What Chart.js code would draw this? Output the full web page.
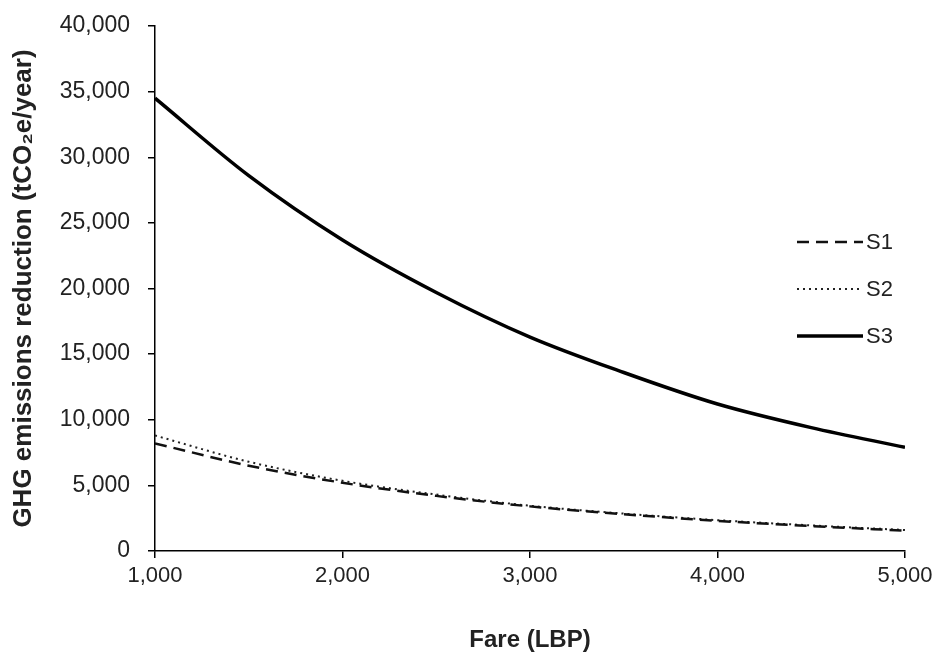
<!DOCTYPE html>
<html>
<head>
<meta charset="utf-8">
<script src="https://cdn.jsdelivr.net/npm/chart.js@4"></script>
<style>
  html, body { margin: 0; padding: 0; background: #fff; }
  #wrap { width: 936px; height: 659px; }
</style>
</head>
<body>
<div id="wrap"><canvas id="chart" width="936" height="659"></canvas></div>
<script>
const fares = [1000, 1500, 2000, 2500, 3000, 3500, 4000, 4500, 5000];
const s1 = [8200, 6500, 5200, 4200, 3400, 2800, 2300, 1900, 1550];
const s2 = [8800, 6800, 5350, 4300, 3450, 2850, 2350, 1950, 1600];
const s3 = [34500, 28600, 23700, 19700, 16300, 13600, 11200, 9400, 7900];
const seriesNames = ["S1", "S2", "S3"];

const toPoints = vals => vals.map((v, i) => ({ x: fares[i], y: v }));
const fmt = v => Number(v).toLocaleString("en-US");
const FONT = "'Liberation Sans', Arial, sans-serif";

// legend drawn inside the plot, on the right
const innerLegend = {
  id: "innerLegend",
  afterDraw(chart) {
    const { ctx, chartArea } = chart;
    const x0 = chartArea.right - 108;
    let y = chartArea.top + 216;
    chart.data.datasets.forEach(ds => {
      ctx.save();
      ctx.strokeStyle = ds.borderColor;
      ctx.lineWidth = ds.borderWidth;
      ctx.setLineDash(ds.borderDash || []);
      ctx.beginPath();
      ctx.moveTo(x0, y);
      ctx.lineTo(x0 + 66, y);
      ctx.stroke();
      ctx.setLineDash([]);
      ctx.fillStyle = "#222";
      ctx.font = "22px " + FONT;
      ctx.textBaseline = "middle";
      ctx.fillText(ds.label, x0 + 69, y + 1);
      ctx.restore();
      y += 47;
    });
  }
};

new Chart(document.getElementById("chart"), {
  type: "line",
  data: {
    datasets: [
      { label: seriesNames[0], data: toPoints(s1), borderColor: "#111", borderWidth: 2.5, borderDash: [12, 7] },
      { label: seriesNames[1], data: toPoints(s2), borderColor: "#222", borderWidth: 2, borderDash: [2, 4] },
      { label: seriesNames[2], data: toPoints(s3), borderColor: "#000", borderWidth: 3.5 }
    ]
  },
  options: {
    responsive: false,
    animation: false,
    elements: { point: { radius: 0 }, line: { cubicInterpolationMode: "monotone", fill: false } },
    layout: { padding: { top: 26, right: 31, left: 0, bottom: 0 } },
    plugins: { legend: { display: false }, tooltip: { enabled: false } },
    scales: {
      x: {
        type: "linear",
        min: 1000, max: 5000,
        afterFit: s => { s.height = 108; s.paddingLeft = 0; s.paddingRight = 0; },
        ticks: { stepSize: 1000, callback: fmt, color: "#222", padding: 5,
          font: { family: FONT, size: 22 } },
        grid: { drawOnChartArea: false, drawTicks: true, tickLength: 7, color: "#000", lineWidth: 1.5 },
        border: { color: "#000", width: 1.5 },
        title: { display: true, text: "Fare (LBP)", color: "#222", padding: { top: 20 },
          font: { family: FONT, size: 24, weight: "bold" } }
      },
      y: {
        min: 0, max: 40000,
        afterFit: s => { s.width = 155; s.paddingTop = 0; s.paddingBottom = 0; },
        ticks: { stepSize: 5000, callback: fmt, color: "#222", padding: 18,
          font: { family: FONT, size: 23 } },
        grid: { drawOnChartArea: false, drawTicks: true, tickLength: 7, color: "#000", lineWidth: 1.5 },
        border: { color: "#000", width: 1.5 },
        title: { display: true, text: "GHG emissions reduction (tCO\u2082e/year)", color: "#222", padding: { top: 8, bottom: 4 },
          font: { family: FONT, size: 26, weight: "bold" } }
      }
    }
  },
  plugins: [innerLegend]
});
</script>
</body>
</html>
